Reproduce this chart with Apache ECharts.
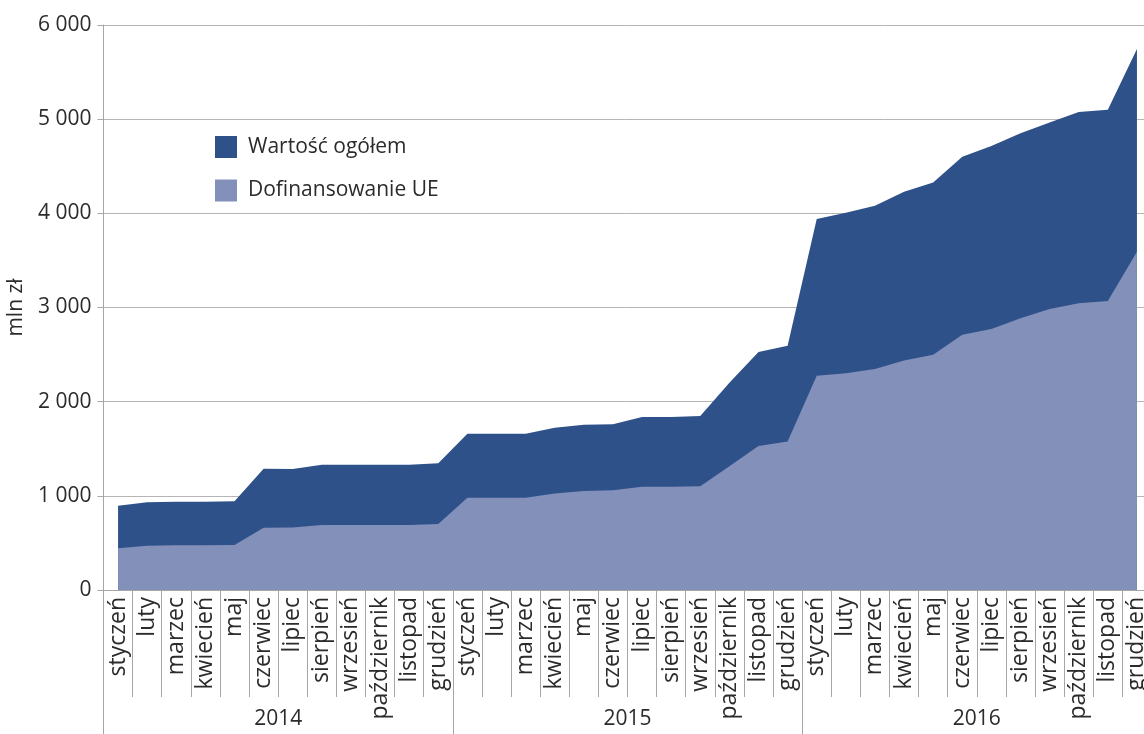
<!DOCTYPE html>
<html>
<head>
<meta charset="utf-8">
<script src="https://cdn.jsdelivr.net/npm/echarts@6.0.0/dist/echarts.min.js"></script>
<style>
  html, body { margin: 0; padding: 0; background: #ffffff; }
  #main { width: 1144px; height: 734px; }
</style>
</head>
<body>
<div id="main"></div>
<script>
// ---- data ----
const years = ['2014', '2015', '2016'];
const monthNames = ['styczeń', 'luty', 'marzec', 'kwiecień', 'maj', 'czerwiec',
  'lipiec', 'sierpień', 'wrzesień', 'październik', 'listopad', 'grudzień'];
const categories = [];
years.forEach(y => monthNames.forEach((m, i) => categories.push(y + '-' + (i + 1))));

const totalValues = [
  895, 931, 938, 938, 942, 1288, 1285, 1330, 1330, 1330, 1330, 1345,
  1660, 1660, 1660, 1723, 1755, 1759, 1836, 1836, 1847, 2200, 2527, 2595,
  3940, 4005, 4080, 4229, 4328, 4602, 4716, 4851, 4965, 5075, 5100, 5746
];
const euValues = [
  443, 471, 475, 475, 478, 662, 665, 690, 690, 690, 690, 701,
  980, 980, 980, 1026, 1051, 1058, 1097, 1097, 1101, 1313, 1529, 1578,
  2274, 2303, 2348, 2438, 2498, 2711, 2771, 2886, 2985, 3045, 3070, 3592
];
const seriesNames = ['Wartość ogółem', 'Dofinansowanie UE'];
const yAxisName = 'mln zł';

// ---- styles ----
const FONT = 'Open Sans';
const TXT = '#2b2b2b';
const GRAY = '#a6a6a6';
const DARK = '#2F5189';
const LIGHT = '#8390BA';

function fmtThousands(v) {
  return String(v).replace(/\B(?=(\d{3})+(?!\d))/g, ' ');
}
function monthOf(cat) {
  const m = parseInt(cat.split('-')[1], 10);
  return monthNames[m - 1];
}

const chart = echarts.init(document.getElementById('main'), null, { renderer: 'canvas' });

const option = {
  animation: false,
  backgroundColor: '#ffffff',
  grid: {
    left: 103.5, right: -7.5, top: 25, bottom: 144,
    containLabel: false, outerBoundsMode: 'none'
  },
  legend: {
    orient: 'vertical',
    left: 215, top: 136,
    padding: 0,
    itemWidth: 22, itemHeight: 22, itemGap: 21.5,
    icon: 'rect',
    textStyle: { fontFamily: FONT, fontSize: 21, color: TXT, padding: [0, 0, 0, 6] },
    data: seriesNames
  },
  xAxis: [
    {
      type: 'category',
      data: categories,
      boundaryGap: true,
      axisLine: { show: true, lineStyle: { color: GRAY, width: 1 } },
      axisTick: { show: true, interval: 0, length: 107, lineStyle: { color: GRAY, width: 1 } },
      axisLabel: {
        show: true, interval: 0, rotate: 90, margin: 7,
        fontFamily: FONT, fontSize: 23, color: TXT,
        formatter: monthOf
      },
      splitLine: { show: false }
    },
    {
      type: 'category',
      data: years,
      position: 'bottom',
      boundaryGap: true,
      axisLine: { show: false },
      axisTick: { show: true, interval: 0, length: 144, lineStyle: { color: GRAY, width: 1 } },
      axisLabel: { show: true, interval: 0, margin: 119, fontFamily: FONT, fontSize: 21, color: TXT },
      splitLine: { show: false }
    }
  ],
  yAxis: {
    type: 'value',
    min: 0, max: 6000, interval: 1000,
    name: yAxisName,
    nameLocation: 'middle',
    nameGap: 77,
    nameTextStyle: { fontFamily: FONT, fontSize: 21, color: TXT },
    axisLine: { show: true, lineStyle: { color: GRAY, width: 1 } },
    axisTick: { show: true, length: 6, lineStyle: { color: GRAY, width: 1 } },
    axisLabel: { margin: 12, fontFamily: FONT, fontSize: 21, color: TXT, formatter: fmtThousands },
    splitLine: { show: true, lineStyle: { color: '#b5b5b5', width: 1 } }
  },
  series: [
    {
      name: seriesNames[0],
      type: 'line',
      data: totalValues,
      symbol: 'none',
      showSymbol: false,
      lineStyle: { width: 0, color: DARK },
      itemStyle: { color: DARK },
      areaStyle: { color: DARK, opacity: 1 },
      z: 2
    },
    {
      name: seriesNames[1],
      type: 'line',
      data: euValues,
      symbol: 'none',
      showSymbol: false,
      lineStyle: { width: 0, color: LIGHT },
      itemStyle: { color: LIGHT },
      areaStyle: { color: LIGHT, opacity: 1 },
      z: 3
    }
  ]
};

chart.setOption(option);
</script>
</body>
</html>
